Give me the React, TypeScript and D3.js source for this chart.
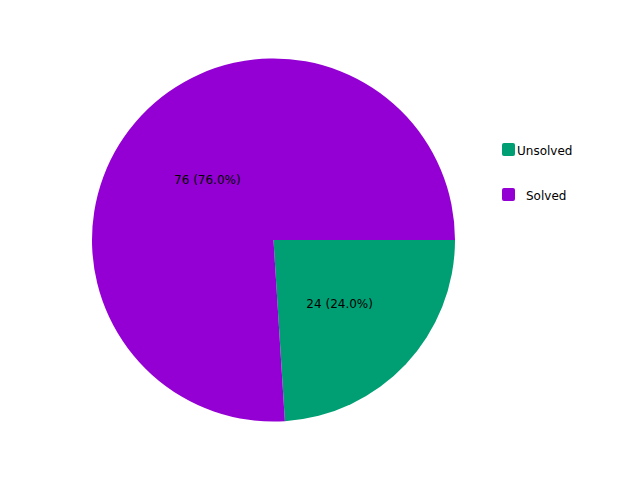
import { useRef, useEffect } from "react"
import * as d3 from "d3"

const labels = ["Unsolved", "Solved"]
const values = [24, 76]
const colors = ["#009e73", "#9400d3"]
const legendOffsets = [0, 9]

const App = () => {
  const svgRef = useRef<SVGSVGElement>(null)

  useEffect(() => {
    const svg = d3.select(svgRef.current)
    svg.selectAll("*").remove()

    const cx = 273.5
    const cy = 240
    const r = 181.5
    const total = d3.sum(values)

    // clockwise from 3 o'clock
    const pie = d3
      .pie<number>()
      .sort(null)
      .startAngle(Math.PI / 2)
      .endAngle(Math.PI / 2 + 2 * Math.PI)

    const arcs = pie(values)
    const arc = d3.arc<d3.PieArcDatum<number>>().innerRadius(0).outerRadius(r)
    const labelArc = d3
      .arc<d3.PieArcDatum<number>>()
      .innerRadius(r * 0.5)
      .outerRadius(r * 0.5)

    const g = svg.append("g").attr("transform", `translate(${cx},${cy})`)

    g.selectAll("path")
      .data(arcs)
      .enter()
      .append("path")
      .attr("d", arc)
      .attr("fill", (d, i) => colors[i])

    g.selectAll("text")
      .data(arcs)
      .enter()
      .append("text")
      .attr("transform", (d) => {
        const [x, y] = labelArc.centroid(d)
        return `translate(${x},${y + 1.5})`
      })
      .attr("text-anchor", "middle")
      .attr("dy", "0.35em")
      .style("font-family", "DejaVu Sans")
      .style("font-size", "12px")
      .style("fill", "#000")
      .text((d) => `${d.data} (${((d.data / total) * 100).toFixed(1)}%)`)

    const legend = svg
      .append("g")
      .selectAll("g")
      .data(labels)
      .enter()
      .append("g")
      .attr("transform", (d, i) => `translate(502,${143 + i * 45})`)

    legend
      .append("rect")
      .attr("width", 13)
      .attr("height", 13)
      .attr("rx", 2)
      .attr("fill", (d, i) => colors[i])

    legend
      .append("text")
      .attr("x", (d, i) => 15 + legendOffsets[i])
      .attr("y", 8)
      .attr("dy", "0.35em")
      .style("font-family", "DejaVu Sans")
      .style("font-size", "12px")
      .style("fill", "#000")
      .text((d) => d)
  }, [])

  return (
    <svg
      ref={svgRef}
      width={640}
      height={480}
      style={{ position: "absolute", left: 0, top: 0, background: "#fff" }}
    />
  )
}

export default App
